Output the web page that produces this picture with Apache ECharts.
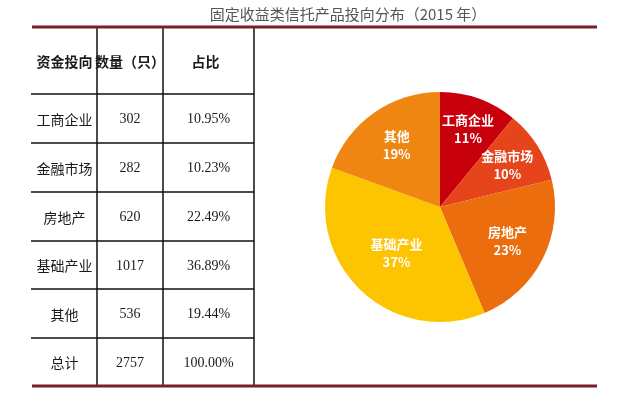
<!DOCTYPE html>
<html><head><meta charset="utf-8">
<script src="https://cdn.jsdelivr.net/npm/echarts@6/dist/echarts.min.js"></script>
<style>html,body{margin:0;padding:0;background:#fff}#c{width:632px;height:418px}</style>
</head><body><div id="c"></div>
<script>
const titleText = '固定收益类信托产品投向分布（2015 年）';
const headers = ['资金投向', '数量（只）', '占比'];
const categories = ['工商企业', '金融市场', '房地产', '基础产业', '其他'];
const counts = [302, 282, 620, 1017, 536];
const shares = ['10.95%', '10.23%', '22.49%', '36.89%', '19.44%'];
const totalRow = ['总计', '2757', '100.00%'];

const palette = ['#C8000E', '#E6441B', '#EB6D0D', '#FDC400', '#EE8611'];

const colX = [32, 97, 163, 254];
const rowY = [28, 94, 143, 192, 241, 289, 338, 386];
const cjk = '"Noto Sans CJK SC", sans-serif';
const serif = '"Liberation Serif", "DejaVu Serif", serif';

const g = [];
g.push({type:'text', style:{text:titleText, x:348, y:14, align:'center', verticalAlign:'middle',
  font:'15px ' + cjk, fill:'#555555'}});
[27, 386].forEach(y => g.push({type:'line', shape:{x1:32, y1:y, x2:597, y2:y},
  style:{stroke:'#7A1F28', lineWidth:3}, z:10}));
colX.slice(1).forEach(x => g.push({type:'line', shape:{x1:x, y1:28, x2:x, y2:385},
  style:{stroke:'#111', lineWidth:1.5}}));
rowY.slice(1, -1).forEach(y => g.push({type:'line', shape:{x1:31, y1:y, x2:254, y2:y},
  style:{stroke:'#111', lineWidth:1.5}}));

const rows = [headers];
categories.forEach((c, i) => rows.push([c, String(counts[i]), shares[i]]));
rows.push(totalRow);
rows.forEach((r, ri) => {
  const yc = (rowY[ri] + rowY[ri + 1]) / 2 + 1;
  r.forEach((t, ci) => {
    let xc = (colX[ci] + colX[ci + 1]) / 2;
    if (ri === 0 && ci === 2) xc -= 3;
    let font;
    if (ri === 0) font = 'bold 14px ' + cjk;
    else if (ci === 0) font = '14px ' + cjk;
    else font = '14px ' + serif;
    g.push({type:'text', style:{text:t, x:xc, y:yc, align:'center', verticalAlign:'middle',
      font:font, fill:'#1a1a1a'}});
  });
});

const pieData = categories.map((c, i) => ({name:c, value:counts[i]}));

// label-only overlay pies: each shows labels for a subset of slices at a given radial position
function labelSeries(names, r0) {
  return {
    type:'pie', center:[440, 207], radius:[r0, 115], startAngle:90, clockwise:true,
    percentPrecision:0, silent:true, z:5, avoidLabelOverlap:false,
    labelLayout:{hideOverlap:false},
    itemStyle:{color:'rgba(0,0,0,0)'},
    label:{show:true, position:'inside', formatter:'{b}\n{d}%', color:'#fff',
      fontWeight:'bold', fontSize:13, lineHeight:18, fontFamily:cjk},
    labelLine:{show:false},
    data: pieData.map(d => ({name:d.name, value:d.value,
      label:{show: names.indexOf(d.name) >= 0}}))
  };
}

const chart = echarts.init(document.getElementById('c'));
chart.setOption({
  animation:false,
  color: palette,
  graphic: g,
  series: [
    {type:'pie', center:[440, 207], radius:[0, 115], startAngle:90, clockwise:true,
     percentPrecision:0, silent:true, label:{show:false}, labelLine:{show:false},
     data: pieData},
    labelSeries(['工商企业'], 45),
    labelSeries(['金融市场'], 38),
    labelSeries(['房地产', '其他'], 30),
    labelSeries(['基础产业'], 5)
  ]
});
</script></body></html>
